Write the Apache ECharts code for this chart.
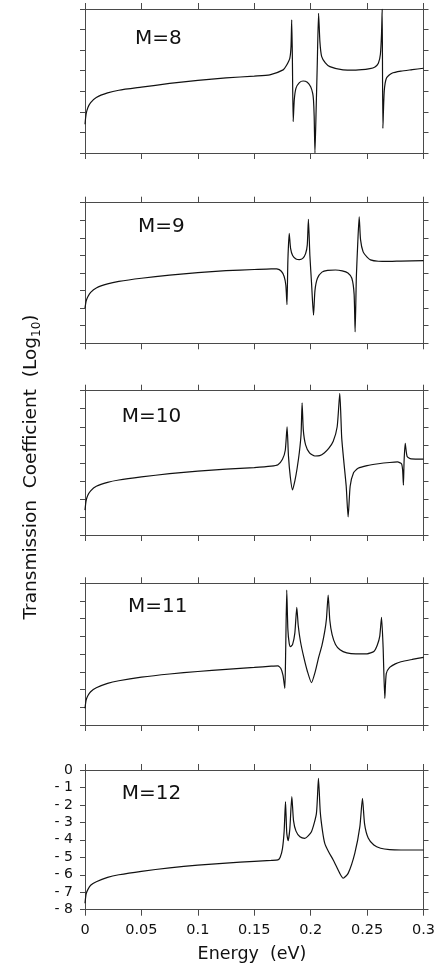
<!DOCTYPE html>
<html>
<head>
<meta charset="utf-8">
<script src="https://cdn.jsdelivr.net/npm/echarts@6/dist/echarts.min.js"></script>
<style>
html,body{margin:0;padding:0;background:#fff;}
#chart{width:440px;height:968px;}
</style>
</head>
<body>
<div id="chart"></div>
<script>
// ---------------- DATA ----------------
const panelLabels = ['M=8', 'M=9', 'M=10', 'M=11', 'M=12'];
const xTickValues = [0, 0.05, 0.1, 0.15, 0.2, 0.25, 0.3];
const yTickLabels = ['- 8', '- 7', '- 6', '- 5', '- 4', '- 3', '- 2', '- 1', '0'];
const xAxisTitle = 'Energy  (eV)';
const yAxisTitle = 'Transmission  Coefficient  (Log';
const yAxisTitleSub = '10';

// M=8
const energyM8 = [0, 0.001, 0.0025, 0.005, 0.01, 0.02, 0.03, 0.05, 0.075, 0.1, 0.125, 0.15, 0.1638, 0.1756, 0.1785, 0.1815, 0.1826, 0.1832, 0.1838, 0.1845, 0.1855, 0.187, 0.19, 0.1933, 0.197, 0.2, 0.2018, 0.2025, 0.2031, 0.2038, 0.2048, 0.2058, 0.207, 0.2082, 0.2097, 0.213, 0.217, 0.2287, 0.24, 0.2525, 0.257, 0.26, 0.2618, 0.2628, 0.2634, 0.264, 0.2652, 0.2672, 0.272, 0.28, 0.29, 0.3];
const logTM8 = [-5.6, -5.1, -4.8, -4.55, -4.3, -4.08, -3.95, -3.8, -3.62, -3.47, -3.35, -3.26, -3.2, -2.96, -2.75, -2.4, -1.8, -0.53, -2.4, -5.47, -4.4, -3.85, -3.58, -3.5, -3.56, -3.78, -4.1, -4.42, -5.2, -7.0, -5.0, -2.8, -0.21, -1.6, -2.3, -2.62, -2.8, -2.96, -2.97, -2.9, -2.82, -2.64, -2.2, -1.2, 0, -5.8, -4.0, -3.35, -3.12, -3.02, -2.95, -2.88];

// M=9
const energyM9 = [0, 0.001, 0.0025, 0.005, 0.01, 0.02, 0.03, 0.05, 0.075, 0.1, 0.125, 0.15, 0.165, 0.17, 0.174, 0.1765, 0.178, 0.179, 0.1798, 0.181, 0.1822, 0.184, 0.187, 0.19, 0.193, 0.1955, 0.197, 0.198, 0.1993, 0.2008, 0.2025, 0.2038, 0.206, 0.21, 0.215, 0.222, 0.228, 0.233, 0.2365, 0.2385, 0.2394, 0.2405, 0.2418, 0.243, 0.2442, 0.2465, 0.25, 0.253, 0.26, 0.27, 0.28, 0.3];
const logTM9 = [-6.0, -5.6, -5.35, -5.1, -4.85, -4.62, -4.48, -4.3, -4.12, -3.98, -3.87, -3.8, -3.76, -3.77, -3.9, -4.2, -4.7, -5.8, -3.3, -1.74, -2.6, -3.0, -3.2, -3.24, -3.17, -2.9, -2.4, -0.95, -3.0, -4.6, -6.4, -5.0, -4.3, -3.95, -3.85, -3.83, -3.88, -4.0, -4.3, -5.2, -7.35, -4.2, -2.2, -0.8, -2.1, -2.8, -3.1, -3.25, -3.33, -3.34, -3.32, -3.3];

// M=10
const energyM10 = [0, 0.001, 0.0025, 0.005, 0.01, 0.02, 0.03, 0.05, 0.075, 0.1, 0.125, 0.15, 0.165, 0.171, 0.175, 0.1775, 0.1791, 0.1803, 0.182, 0.1839, 0.186, 0.188, 0.19, 0.1915, 0.1924, 0.1935, 0.1955, 0.199, 0.2037, 0.208, 0.212, 0.216, 0.22, 0.2235, 0.2258, 0.2275, 0.2295, 0.2315, 0.2332, 0.235, 0.238, 0.242, 0.25, 0.26, 0.27, 0.277, 0.2805, 0.2815, 0.2822, 0.2828, 0.2838, 0.2855, 0.289, 0.3];
const logTM10 = [-6.62, -6.1, -5.8, -5.55, -5.3, -5.08, -4.95, -4.78, -4.6, -4.46, -4.35, -4.26, -4.18, -4.1, -3.8, -3.3, -2.0, -3.6, -4.8, -5.5, -5.0, -4.3, -3.4, -2.4, -0.67, -2.2, -3.0, -3.45, -3.62, -3.6, -3.45, -3.2, -2.8, -2.0, -0.15, -2.6, -4.0, -5.3, -7.0, -5.3, -4.55, -4.3, -4.15, -4.05, -3.98, -3.95, -4.05, -4.4, -5.23, -3.9, -2.92, -3.65, -3.78, -3.79];

// M=11
const energyM11 = [0, 0.001, 0.0025, 0.005, 0.01, 0.02, 0.03, 0.05, 0.075, 0.1, 0.125, 0.15, 0.165, 0.171, 0.1735, 0.1755, 0.1771, 0.1778, 0.1788, 0.1798, 0.181, 0.1821, 0.184, 0.186, 0.1877, 0.189, 0.191, 0.194, 0.197, 0.2007, 0.204, 0.207, 0.21, 0.2125, 0.214, 0.2155, 0.217, 0.219, 0.222, 0.226, 0.232, 0.24, 0.25, 0.256, 0.259, 0.2612, 0.2628, 0.2642, 0.2657, 0.267, 0.27, 0.275, 0.28, 0.29, 0.3];
const logTM11 = [-7.06, -6.6, -6.35, -6.12, -5.9, -5.65, -5.5, -5.3, -5.12, -4.98, -4.86, -4.75, -4.68, -4.66, -4.8, -5.2, -5.93, -4.0, -0.38, -2.6, -3.4, -3.58, -3.45, -2.8, -1.36, -2.4, -3.3, -4.2, -4.95, -5.61, -5.0, -4.2, -3.5, -2.7, -2.0, -0.66, -2.1, -2.9, -3.45, -3.75, -3.93, -3.99, -3.98, -3.85, -3.5, -3.0, -1.92, -3.6, -6.5, -5.1, -4.75, -4.55, -4.43, -4.3, -4.18];

// M=12
const energyM12 = [0, 0.001, 0.0025, 0.005, 0.01, 0.02, 0.03, 0.05, 0.075, 0.1, 0.125, 0.15, 0.165, 0.171, 0.173, 0.175, 0.1765, 0.1777, 0.1788, 0.18, 0.1815, 0.1833, 0.1848, 0.187, 0.1905, 0.1948, 0.2007, 0.2051, 0.2069, 0.2085, 0.2105, 0.2125, 0.216, 0.22, 0.2258, 0.2288, 0.2332, 0.2391, 0.2436, 0.2459, 0.2478, 0.251, 0.256, 0.262, 0.27, 0.28, 0.3];
const logTM12 = [-7.63, -7.1, -6.85, -6.6, -6.4, -6.15, -6.0, -5.8, -5.6, -5.45, -5.33, -5.23, -5.18, -5.15, -5.0, -4.5, -3.5, -1.81, -3.6, -4.05, -3.4, -1.53, -2.9, -3.5, -3.82, -3.91, -3.53, -2.48, -0.48, -2.4, -3.5, -4.2, -4.7, -5.15, -5.92, -6.2, -5.92, -4.77, -3.24, -1.62, -3.1, -3.9, -4.3, -4.48, -4.56, -4.58, -4.58];

const energies = [energyM8, energyM9, energyM10, energyM11, energyM12];
const logValues = [logTM8, logTM9, logTM10, logTM11, logTM12];
const yMins = [-7, -8, -8, -8, -8];

// ---------------- LAYOUT ----------------
const gridTops = [9, 202.7, 390.7, 583.3, 770];
const gridHeights = [144, 140.6, 144.3, 141.7, 139.7];
const labelPos = [[135, 40.5], [138, 229], [121.7, 418.7], [128, 609], [121.7, 796]];
const FONT = 'DejaVu Sans';
const AX = '#4a4a4a';

const grids = [], xAxes = [], yAxes = [], series = [], graphics = [];
for (let i = 0; i < 5; i++) {
  const last = i === 4;
  grids.push({ left: 85, right: 16.5, top: gridTops[i], height: gridHeights[i], containLabel: false });
  const xBase = {
    type: 'value', gridIndex: i, min: 0, max: 0.3, interval: 0.05,
    axisLine: { show: true, onZero: false, lineStyle: { color: AX, width: 1 } },
    axisTick: { show: true, inside: false, length: 6, lineStyle: { color: AX, width: 1 } },
    splitLine: { show: false }
  };
  xAxes.push(Object.assign({}, xBase, {
    position: 'bottom',
    axisLabel: {
      show: last, margin: 13, fontFamily: FONT, fontSize: 14.5, color: '#111',
      formatter: v => { const k = xTickValues.findIndex(t => Math.abs(t - v) < 1e-9); return k >= 0 ? String(xTickValues[k]) : ''; }
    }
  }));
  xAxes.push(Object.assign({}, xBase, { position: 'top', axisLabel: { show: false } }));
  const yBase = {
    type: 'value', gridIndex: i, min: yMins[i], max: 0, interval: 1,
    axisLine: { show: true, onZero: false, lineStyle: { color: AX, width: 1 } },
    axisTick: { show: true, inside: false, length: 5, lineStyle: { color: AX, width: 1 } },
    splitLine: { show: false }
  };
  yAxes.push(Object.assign({}, yBase, {
    position: 'left',
    axisLabel: {
      show: last, margin: 12, fontFamily: FONT, fontSize: 14, color: '#111',
      formatter: v => yTickLabels[Math.round(v) + 8]
    }
  }));
  yAxes.push(Object.assign({}, yBase, { position: 'right', axisLabel: { show: false } }));
  series.push({
    type: 'line', xAxisIndex: 2 * i, yAxisIndex: 2 * i,
    data: energies[i].map((e, j) => [e, logValues[i][j]]),
    showSymbol: false, smooth: 0.2, clip: true,
    lineStyle: { color: '#111', width: 1.2 },
    animation: false
  });
  graphics.push({
    type: 'text', left: labelPos[i][0], top: labelPos[i][1] - 12,
    style: { text: panelLabels[i], font: '20px "' + FONT + '"', fill: '#111' }
  });
}
graphics.push({
  type: 'text', x: 252, y: 954,
  style: { text: xAxisTitle, font: '17.5px "' + FONT + '"', fill: '#111', align: 'center', verticalAlign: 'middle' }
});
graphics.push({
  type: 'text', x: 31, y: 467, rotation: Math.PI / 2,
  style: {
    text: '{a|' + yAxisTitle + '}{s|' + yAxisTitleSub + '}{a|)}',
    align: 'center', verticalAlign: 'middle',
    rich: {
      a: { fontFamily: FONT, fontSize: 18.5, fill: '#111', color: '#111' },
      s: { fontFamily: FONT, fontSize: 12, fill: '#111', color: '#111', padding: [11, 0, 0, 0] }
    }
  }
});

const chart = echarts.init(document.getElementById('chart'), null, { renderer: 'canvas' });
chart.setOption({
  animation: false,
  backgroundColor: '#fff',
  grid: grids, xAxis: xAxes, yAxis: yAxes, series: series,
  graphic: graphics
});
</script>
</body>
</html>
